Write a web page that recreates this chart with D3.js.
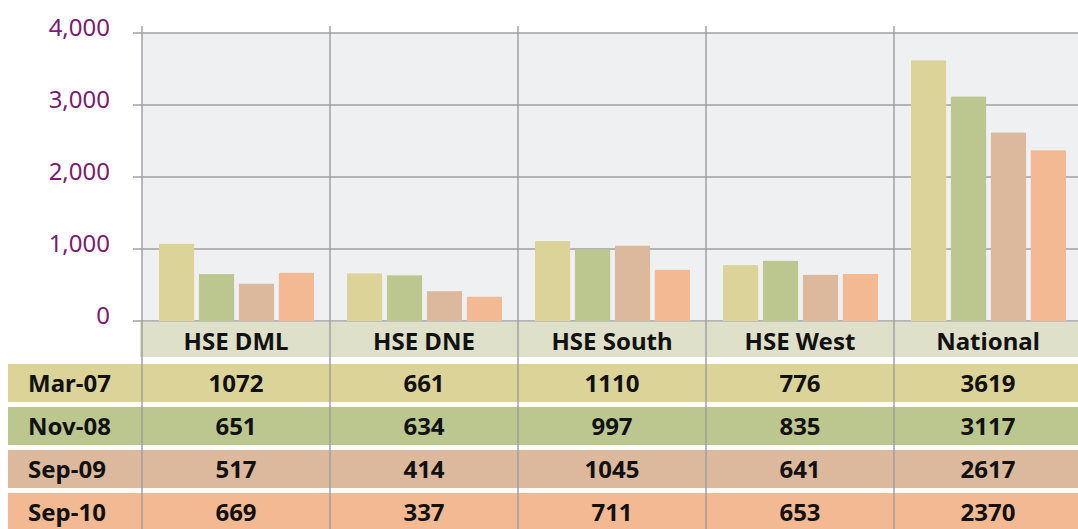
<!DOCTYPE html>
<html>
<head>
<meta charset="utf-8">
<script src="https://cdn.jsdelivr.net/npm/d3@7"></script>
<style>
  html, body { margin: 0; padding: 0; background: #ffffff; }
  svg { display: block; font-family: "Noto Sans", "Open Sans", sans-serif; }
</style>
</head>
<body>
<svg id="chart" width="1078" height="529"></svg>
<script>
const categories = ["HSE DML", "HSE DNE", "HSE South", "HSE West", "National"];
const seriesNames = ["Mar-07", "Nov-08", "Sep-09", "Sep-10"];
const mar07 = [1072, 661, 1110, 776, 3619];
const nov08 = [651, 634, 997, 835, 3117];
const sep09 = [517, 414, 1045, 641, 2617];
const sep10 = [669, 337, 711, 653, 2370];
const yTicks = [0, 1000, 2000, 3000, 4000];
const seriesColors = ["#dcd398", "#bbc78e", "#dcb89c", "#f2b993"];

const seriesValues = [mar07, nov08, sep09, sep10];

const svg = d3.select("#chart");
const W = 1078, H = 529;
const plotLeft = 142, plotRight = 1078, plotTop = 33, plotBottom = 321;
const catWidth = 188;

const x = d3.scaleBand().domain(categories).range([plotLeft, plotLeft + catWidth * categories.length]).padding(0);
const xs = d3.scaleBand().domain(seriesNames).range([17, 172]).paddingInner(0.12);
const y = d3.scaleLinear().domain([0, 4000]).range([plotBottom, plotTop]);

// plot background
svg.append("rect")
  .attr("x", plotLeft).attr("y", y(4000))
  .attr("width", plotRight - plotLeft).attr("height", y(0) - y(4000))
  .attr("fill", "#eff0f2");

// horizontal gridlines + tick marks
svg.append("g").selectAll("line").data(yTicks).join("line")
  .attr("x1", 133).attr("x2", plotRight)
  .attr("y1", d => y(d)).attr("y2", d => y(d))
  .attr("stroke", "#a0a0a2").attr("stroke-width", 1.6);

// y labels
svg.append("g").selectAll("text").data(yTicks).join("text")
  .attr("x", 110).attr("y", d => y(d) + 2.5)
  .attr("text-anchor", "end")
  .attr("font-size", 24)
  .attr("fill", "#7b1a72")
  .text(d => d3.format(",")(d));

// bars
const barData = [];
categories.forEach((c, i) => {
  seriesNames.forEach((s, j) => {
    barData.push({ cat: c, series: s, value: seriesValues[j][i], color: seriesColors[j] });
  });
});
svg.append("g").selectAll("rect").data(barData).join("rect")
  .attr("x", d => x(d.cat) + xs(d.series))
  .attr("width", xs.bandwidth())
  .attr("y", d => y(d.value))
  .attr("height", d => y(0) - y(d.value))
  .attr("fill", d => d.color);

// header row (category labels)
const headerTop = plotBottom + 0.8, headerBottom = 357;
svg.append("rect")
  .attr("x", 140).attr("y", headerTop)
  .attr("width", W - 140).attr("height", headerBottom - headerTop)
  .attr("fill", "#dfe0ca");
svg.append("g").selectAll("text").data(categories).join("text")
  .attr("x", d => x(d) + x.bandwidth() / 2)
  .attr("y", headerTop + 28.5)
  .attr("text-anchor", "middle")
  .attr("font-size", 24).attr("font-weight", "bold")
  .attr("fill", "#111")
  .text(d => d);

// table rows
const rowTop0 = 364, rowH = 38, rowStep = 43;
const rows = svg.append("g");
seriesNames.forEach((s, j) => {
  const top = rowTop0 + j * rowStep;
  rows.append("rect")
    .attr("x", 8).attr("y", top)
    .attr("width", W - 8).attr("height", rowH)
    .attr("fill", seriesColors[j]);
  rows.append("text")
    .attr("x", 28).attr("y", top + 27.5)
    .attr("font-size", 24).attr("font-weight", "bold")
    .attr("fill", "#111")
    .text(s);
  rows.selectAll(null).data(categories).join("text")
    .attr("x", d => x(d) + x.bandwidth() / 2)
    .attr("y", top + 27.5)
    .attr("text-anchor", "middle")
    .attr("font-size", 24).attr("font-weight", "bold")
    .attr("fill", "#111")
    .text((d, i) => seriesValues[j][i]);
});

// vertical separators
const vx = categories.map(c => x(c));
svg.append("g").selectAll("line").data(vx).join("line")
  .attr("x1", d => d).attr("x2", d => d)
  .attr("y1", 26).attr("y2", H)
  .attr("stroke", "#9c9c9e").attr("stroke-width", 1.4);
</script>
</body>
</html>
